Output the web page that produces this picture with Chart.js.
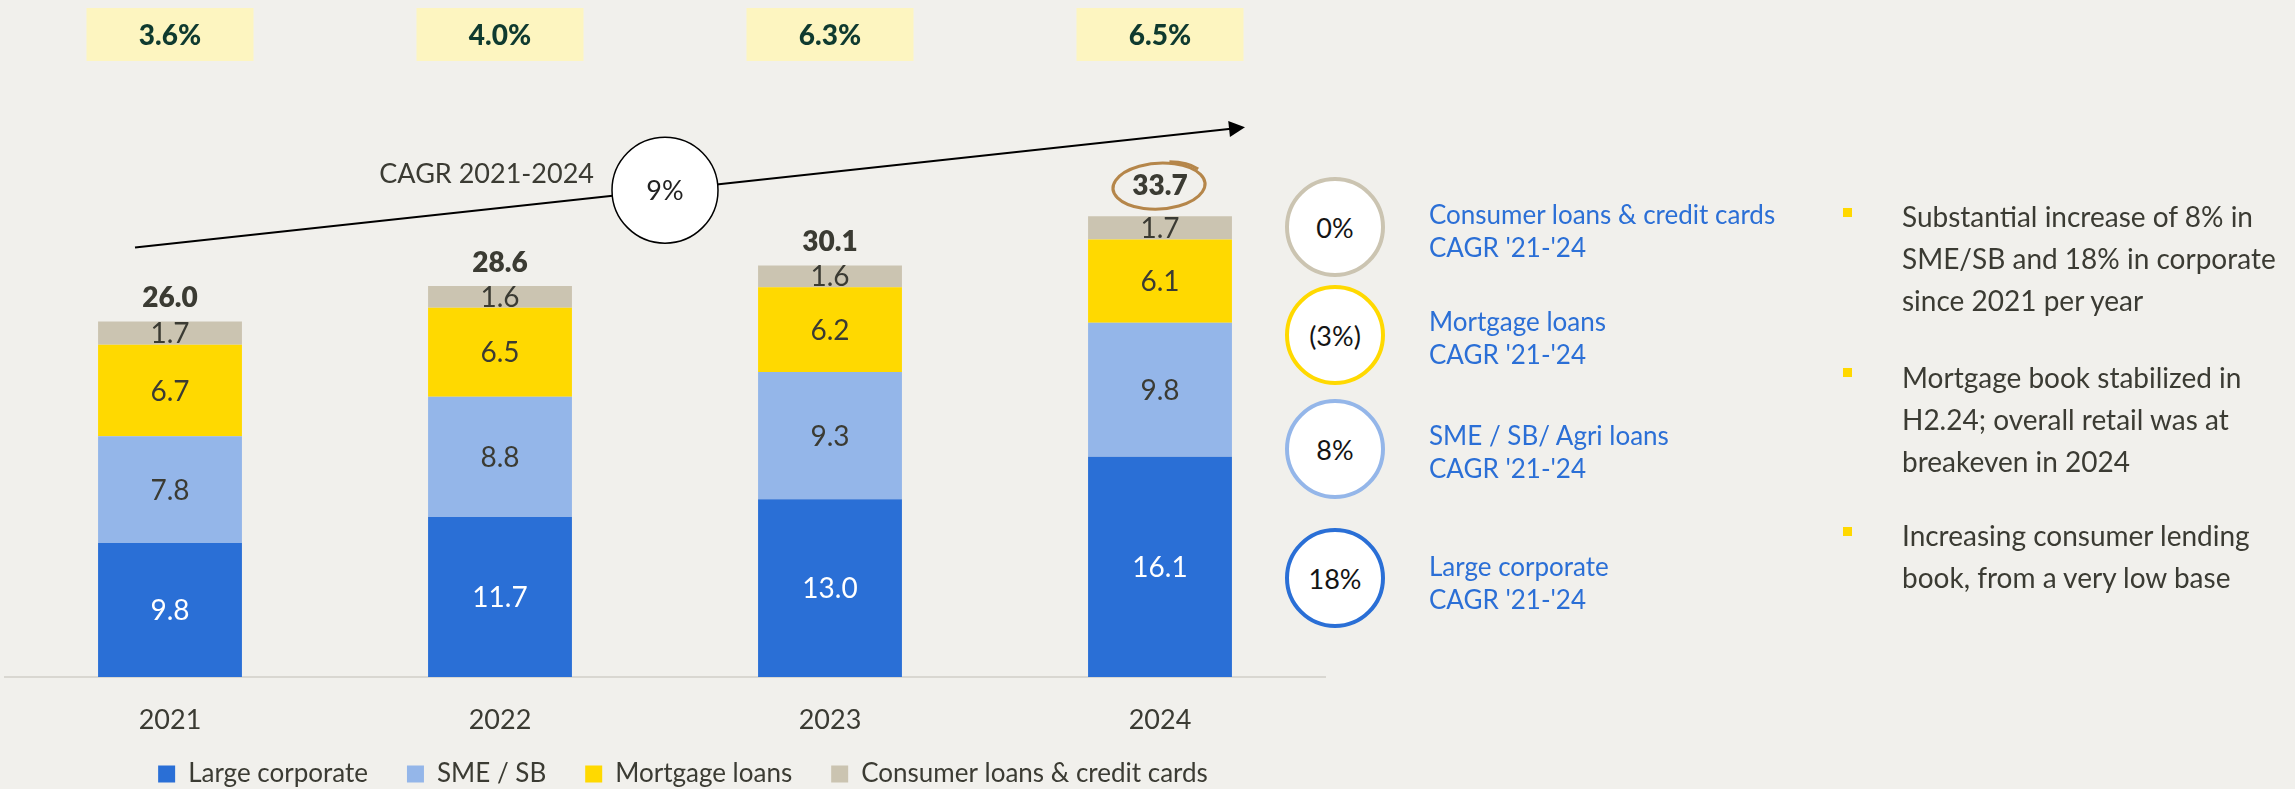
<!DOCTYPE html>
<html>
<head>
<meta charset="utf-8">
<script src="https://cdn.jsdelivr.net/npm/chart.js@4.4.1/dist/chart.umd.min.js"></script>
<style>
  html, body { margin:0; padding:0; background:#f1f0ec; }
  #wrap { position:relative; width:2295px; height:789px; overflow:hidden; background:#f1f0ec; font-family: Lato, "Open Sans", sans-serif; }
  #c { position:absolute; left:0; top:0; }
  .circ { position:absolute; width:92px; height:92px; border-radius:50%; background:#fff; border:4px solid #000;
          display:flex; align-items:center; justify-content:center; font-size:27px; color:#141414; }
  .clab { position:absolute; left:1429px; font-size:26px; line-height:33px; color:#2b6fd6; white-space:nowrap; }
  .bul { position:absolute; left:1843px; width:9px; height:9px; background:#ffd800; }
  .btxt { position:absolute; left:1902px; font-size:28px; line-height:42px; color:#3b3b33; white-space:nowrap; }
</style>
</head>
<body>
<div id="wrap">
  <canvas id="c" width="2295" height="789"></canvas>
  <div id="panel"></div>
</div>
<script>
// ---------- data ----------
const categories = ['2021', '2022', '2023', '2024'];
const seriesNames = ['Large corporate', 'SME / SB', 'Mortgage loans', 'Consumer loans & credit cards'];
const largeCorporate = [9.8, 11.7, 13.0, 16.1];
const smeSb = [7.8, 8.8, 9.3, 9.8];
const mortgageLoans = [6.7, 6.5, 6.2, 6.1];
const consumerLoans = [1.7, 1.6, 1.6, 1.7];
const totals = [26.0, 28.6, 30.1, 33.7];
const topRatios = ['3.6%', '4.0%', '6.3%', '6.5%'];
const overallCagrLabel = 'CAGR 2021-2024';
const overallCagr = '9%';
const segCagrValues = ['0%', '(3%)', '8%', '18%'];
const segCagrNames = ['Consumer loans & credit cards', 'Mortgage loans', 'SME / SB/ Agri loans', 'Large corporate'];
const segCagrSub = "CAGR '21-'24";
const bulletTexts = [
  ['Substantial increase of 8% in', 'SME/SB and 18% in corporate', 'since 2021 per year'],
  ['Mortgage book stabilized in', 'H2.24; overall retail was at', 'breakeven in 2024'],
  ['Increasing consumer lending', 'book, from a very low base']
];

// ---------- styles ----------
const colors = ['#2a6fd6', '#94b6e9', '#ffd900', '#cbc4b1'];
const labelColors = ['#ffffff', '#3b3b33', '#3b3b33', '#3b3b33'];
const textDark = '#3b3b33';
const FONT = 'Lato, "Open Sans", sans-serif';

const seriesValues = [largeCorporate, smeSb, mortgageLoans, consumerLoans];

const annotPlugin = {
  id: 'annot',
  afterLayout(chart) {
    const lg = chart.legend;
    if (lg) { lg.left += 18; lg.right += 18; lg.top -= 22; lg.bottom -= 22; }
  },
  afterDatasetsDraw(chart) {
    const ctx = chart.ctx;
    const xs = chart.scales.x, ys = chart.scales.y;
    ctx.save();
    // segment value labels
    chart.data.datasets.forEach((ds, di) => {
      const meta = chart.getDatasetMeta(di);
      meta.data.forEach((bar, i) => {
        ctx.font = '28px ' + FONT;
        ctx.fillStyle = labelColors[di];
        ctx.textAlign = 'center';
        ctx.textBaseline = 'middle';
        ctx.fillText(ds.data[i].toFixed(1), bar.x, (bar.y + bar.base) / 2 + 1);
      });
    });
    // totals
    const topMeta = chart.getDatasetMeta(chart.data.datasets.length - 1);
    topMeta.data.forEach((bar, i) => {
      ctx.font = '800 28px ' + FONT;
      ctx.fillStyle = textDark;
      ctx.textAlign = 'center';
      ctx.textBaseline = 'middle';
      const ty = bar.y - (i === 3 ? 30 : 23);
      ctx.fillText(totals[i].toFixed(1), bar.x, ty);
      if (i === 3) {
        // hand-drawn circle around latest total
        ctx.strokeStyle = '#b5864a';
        ctx.lineWidth = 3;
        ctx.beginPath();
        ctx.ellipse(bar.x - 1, ty, 46, 23, -0.06, -1.2, Math.PI * 2 - 0.75);
        ctx.stroke();
        ctx.beginPath();
        ctx.ellipse(bar.x + 2, ty - 2, 44, 22, -0.1, -1.35, -0.55);
        ctx.stroke();
      }
    });
    // top ratio boxes
    topRatios.forEach((t, i) => {
      const cx = xs.getPixelForValue(i);
      ctx.fillStyle = '#fdf5c0';
      ctx.fillRect(cx - 83.5, 8, 167, 53);
      ctx.font = '900 28px ' + FONT;
      ctx.fillStyle = '#0f3a2f';
      ctx.textAlign = 'center';
      ctx.textBaseline = 'middle';
      ctx.fillText(t, cx, 36);
    });
    // CAGR arrow
    const x0 = xs.getPixelForValue(0) - 35, y0 = ys.getPixelForValue(31.4);
    const x1 = xs.getPixelForValue(3) + 85, y1 = ys.getPixelForValue(40.2);
    const ang = Math.atan2(y1 - y0, x1 - x0);
    ctx.strokeStyle = '#000';
    ctx.lineWidth = 2;
    ctx.beginPath();
    ctx.moveTo(x0, y0);
    ctx.lineTo(x1 - 14 * Math.cos(ang), y1 - 14 * Math.sin(ang));
    ctx.stroke();
    ctx.fillStyle = '#000';
    ctx.beginPath();
    ctx.moveTo(x1, y1);
    ctx.lineTo(x1 - 16 * Math.cos(ang) + 8 * Math.sin(ang), y1 - 16 * Math.sin(ang) - 8 * Math.cos(ang));
    ctx.lineTo(x1 - 16 * Math.cos(ang) - 8 * Math.sin(ang), y1 - 16 * Math.sin(ang) + 8 * Math.cos(ang));
    ctx.closePath();
    ctx.fill();
    // CAGR circle
    const cx = (xs.getPixelForValue(1) + xs.getPixelForValue(2)) / 2;
    const cy = y0 + (y1 - y0) * (cx - x0) / (x1 - x0);
    ctx.beginPath();
    ctx.arc(cx, cy, 53, 0, Math.PI * 2);
    ctx.fillStyle = '#ffffff';
    ctx.fill();
    ctx.lineWidth = 1.5;
    ctx.strokeStyle = '#000';
    ctx.stroke();
    ctx.font = '27px ' + FONT;
    ctx.fillStyle = '#222';
    ctx.textAlign = 'center';
    ctx.textBaseline = 'middle';
    ctx.fillText(overallCagr, cx, cy + 1);
    ctx.textAlign = 'right';
    ctx.fillStyle = textDark;
    ctx.fillText(overallCagrLabel, cx - 53 - 18, cy - 16);
    ctx.restore();
  }
};

const chart = new Chart(document.getElementById('c'), {
  type: 'bar',
  data: {
    labels: categories,
    datasets: seriesValues.map((vals, i) => ({
      label: seriesNames[i],
      data: vals,
      backgroundColor: colors[i],
      borderWidth: 0,
      barPercentage: 0.436,
      categoryPercentage: 1
    }))
  },
  plugins: [annotPlugin],
  options: {
    responsive: false,
    devicePixelRatio: 1,
    animation: false,
    layout: { padding: { left: 5, right: 970, top: 130, bottom: -30 } },
    plugins: {
      legend: {
        position: 'bottom',
        labels: { boxWidth: 17, boxHeight: 17, padding: 39, color: textDark, font: { family: FONT, size: 26 } }
      },
      tooltip: { enabled: false }
    },
    scales: {
      x: {
        stacked: true,
        grid: { display: false, drawTicks: false },
        border: { display: true, color: '#d9d7d1', width: 2 },
        ticks: { color: textDark, font: { family: FONT, size: 27 }, padding: 27 },
        afterFit(s) { s.height = 67; }
      },
      y: { stacked: true, min: 0, max: 40, display: false }
    }
  }
});

// ---------- right panel ----------
const panel = document.getElementById('panel');
const circY = [227, 335, 449, 578];
const circCol = ['#cbc4b1', '#ffd900', '#94b6e9', '#2a6fd6'];
const labTop = [198, 305, 419, 550];
segCagrValues.forEach((v, i) => {
  const d = document.createElement('div');
  d.className = 'circ';
  d.style.left = (1335 - 50) + 'px';
  d.style.top = (circY[i] - 50) + 'px';
  d.style.borderColor = circCol[i];
  d.textContent = v;
  panel.appendChild(d);
  const l = document.createElement('div');
  l.className = 'clab';
  l.style.top = labTop[i] + 'px';
  const a = document.createElement('div'); a.textContent = segCagrNames[i];
  const b = document.createElement('div'); b.textContent = segCagrSub;
  l.appendChild(a); l.appendChild(b);
  panel.appendChild(l);
});
const bulY = [212, 372, 531];
const bTop = [195, 356, 514];
bulletTexts.forEach((lines, i) => {
  const s = document.createElement('div');
  s.className = 'bul';
  s.style.top = (bulY[i] - 4.5) + 'px';
  panel.appendChild(s);
  const t = document.createElement('div');
  t.className = 'btxt';
  t.style.top = bTop[i] + 'px';
  lines.forEach(line => { const r = document.createElement('div'); r.textContent = line; t.appendChild(r); });
  panel.appendChild(t);
});
</script>
</body>
</html>
